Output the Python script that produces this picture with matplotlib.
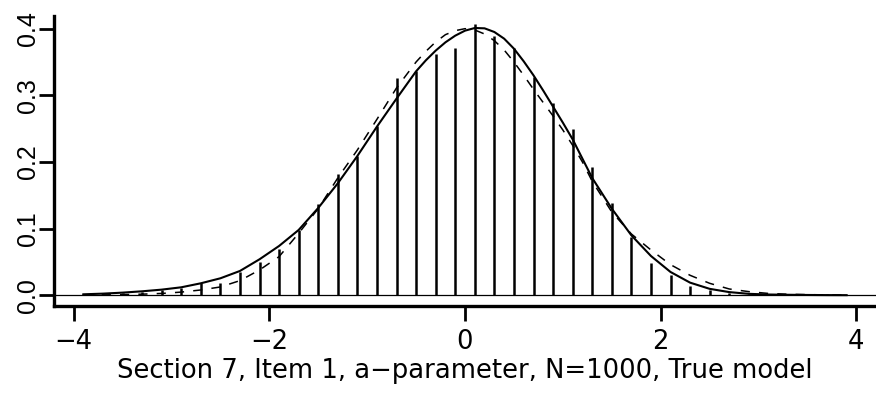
import matplotlib
matplotlib.use("Agg")
import matplotlib.pyplot as plt

plt.rcParams['font.family'] = ['DejaVu Sans']
plt.rcParams['font.size'] = 18.6
plt.rcParams['axes.unicode_minus'] = True

# bar (histogram density) heights at bin midpoints
bar_x = [-3.9, -3.7, -3.5, -3.3, -3.1, -2.9, -2.7, -2.5, -2.3, -2.1,
         -1.9, -1.7, -1.5, -1.3, -1.1, -0.9, -0.7, -0.5, -0.3, -0.1,
         0.1, 0.3, 0.5, 0.7, 0.9, 1.1, 1.3, 1.5, 1.7, 1.9,
         2.1, 2.3, 2.5, 2.7, 2.9, 3.1, 3.3, 3.5, 3.7, 3.9]
bar_h = [0.0015, 0.002, 0.004, 0.005, 0.0075, 0.0115, 0.019, 0.019, 0.035, 0.0505,
         0.0695, 0.098, 0.137, 0.1825, 0.209, 0.2545, 0.3255, 0.337, 0.362, 0.3705,
         0.407, 0.3895, 0.3715, 0.327, 0.288, 0.249, 0.192, 0.138, 0.087, 0.049,
         0.0305, 0.014, 0.008, 0.0035, 0.002, 0.0015, 0.0015, 0.001, 0.0015, 0.001]

# solid curve (estimated density)
solid_x = [-3.9, -3.7, -3.5, -3.3, -3.1, -2.9, -2.7, -2.5, -2.3, -2.1,
           -1.9, -1.7, -1.5, -1.3, -1.1, -0.9, -0.7, -0.5, -0.4, -0.3,
           -0.2, -0.1, 0.0, 0.1, 0.2, 0.3, 0.4, 0.5, 0.6, 0.7,
           0.8, 0.9, 1.0, 1.1, 1.2, 1.3, 1.5, 1.7, 1.9, 2.1,
           2.3, 2.5, 2.7, 2.9, 3.1, 3.3, 3.5, 3.7, 3.9]
solid_y = [0.0015, 0.0025, 0.004, 0.006, 0.0085, 0.012, 0.018, 0.0255, 0.0365, 0.054,
           0.074, 0.098, 0.131, 0.168, 0.209, 0.253, 0.295, 0.336, 0.3525, 0.367,
           0.3795, 0.3895, 0.397, 0.401, 0.4005, 0.395, 0.385, 0.370, 0.351, 0.330,
           0.307, 0.283, 0.259, 0.234, 0.205, 0.176, 0.130, 0.090, 0.059, 0.035,
           0.019, 0.0097, 0.0048, 0.0022, 0.0012, 0.0008, 0.0005, 0.0003, 0.0002]

# dashed curve (true density)
dash_x = solid_x
dash_y = [0.0003, 0.0006, 0.001, 0.0017, 0.0028, 0.0048, 0.008, 0.0125, 0.022, 0.038,
          0.058, 0.093, 0.130, 0.176, 0.218, 0.264, 0.311, 0.350, 0.366, 0.380,
          0.391, 0.397, 0.400, 0.398, 0.392, 0.382, 0.368, 0.350, 0.330, 0.309,
          0.289, 0.269, 0.248, 0.225, 0.200, 0.171, 0.125, 0.092, 0.068, 0.046,
          0.030, 0.018, 0.0095, 0.0055, 0.0028, 0.0016, 0.001, 0.0006, 0.0004]

x_ticks = [-4, -2, 0, 2, 4]
y_ticks = [0.0, 0.1, 0.2, 0.3, 0.4]
y_tick_labels = ['0.0', '0.1', '0.2', '0.3', '0.4']
xlab = 'Section 7, Item 1, a\u2212parameter, N=1000, True model'

fig = plt.figure(figsize=(8.76, 3.93), dpi=100)
ax = fig.add_axes([54/876, 87.3/393, 1 - 54/876, 289.7/393])

ax.vlines(bar_x, 0, bar_h, colors='black', linewidth=1.8, capstyle='butt')
ax.plot(solid_x, solid_y, color='black', linewidth=1.5)
ax.plot(dash_x, dash_y, color='black', linewidth=1.1, linestyle=(0, (6, 6)))
ax.axhline(0, color='black', linewidth=0.9)

ax.set_xlim(-4.2, 4.2)
ax.set_ylim(-0.0156, 0.419)
ax.spines['top'].set_visible(False)
ax.spines['right'].set_visible(False)
ax.spines['left'].set_linewidth(2.4)
ax.spines['bottom'].set_linewidth(2.4)

ax.set_xticks(x_ticks)
ax.set_yticks(y_ticks)
ax.set_yticklabels(y_tick_labels)
ax.tick_params(axis='both', length=11, width=2, direction='out')
ax.tick_params(axis='x', pad=6)
ax.tick_params(axis='y', pad=-1, labelrotation=90)
for lab in ax.get_yticklabels():
    lab.set_va('center')
    lab.set_family(['Liberation Sans', 'DejaVu Sans'])
    lab.set_fontsize(18)

ax.set_xlabel(xlab, labelpad=2)

fig.savefig('out.png', dpi=100)
